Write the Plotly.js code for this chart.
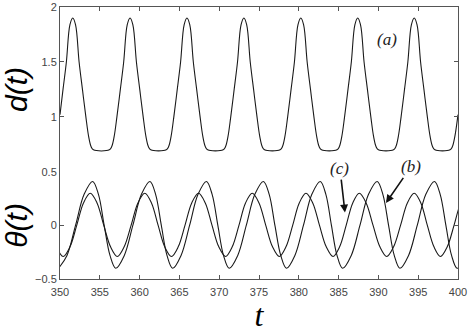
<!DOCTYPE html>
<html>
<head>
<meta charset="utf-8">
<script src="https://cdn.plot.ly/plotly-3.0.1.min.js"></script>
<style>
  html, body { margin: 0; padding: 0; background: #fff; }
  #chart { width: 469px; height: 333px; }
</style>
</head>
<body>
<div id="chart"></div>
<script>
// top panel: d(t)
var tD = [350, 350.38, 350.8, 351.25, 351.6, 351.95, 352.4, 352.82, 353.25, 353.6, 353.9, 354.2,
    356.2, 356.5, 356.8, 357.15, 357.58, 358.0, 358.45, 358.8, 359.15, 359.6, 360.02, 360.45, 360.8, 361.1, 361.4,
    363.35, 363.65, 363.95, 364.3, 364.73, 365.15, 365.6, 365.95, 366.3, 366.75, 367.17, 367.6, 367.95, 368.25, 368.55,
    370.5, 370.8, 371.1, 371.45, 371.88, 372.3, 372.75, 373.1, 373.45, 373.9, 374.32, 374.75, 375.1, 375.4, 375.7,
    377.65, 377.95, 378.25, 378.6, 379.03, 379.45, 379.9, 380.25, 380.6, 381.05, 381.47, 381.9, 382.25, 382.55, 382.85,
    384.8, 385.1, 385.4, 385.75, 386.18, 386.6, 387.05, 387.4, 387.75, 388.2, 388.62, 389.05, 389.4, 389.7, 390.0,
    391.9, 392.2, 392.5, 392.85, 393.28, 393.7, 394.15, 394.5, 394.85, 395.3, 395.72, 396.15, 396.5, 396.8, 397.1,
    399.0, 399.3, 399.6, 400];
var dVals = [1.02, 1.25, 1.5, 1.84, 1.9, 1.84, 1.5, 1.25, 1.0, 0.82, 0.73, 0.70,
    0.70, 0.73, 0.82, 1.0, 1.25, 1.5, 1.84, 1.9, 1.84, 1.5, 1.25, 1.0, 0.82, 0.73, 0.70,
    0.70, 0.73, 0.82, 1.0, 1.25, 1.5, 1.84, 1.9, 1.84, 1.5, 1.25, 1.0, 0.82, 0.73, 0.70,
    0.70, 0.73, 0.82, 1.0, 1.25, 1.5, 1.84, 1.9, 1.84, 1.5, 1.25, 1.0, 0.82, 0.73, 0.70,
    0.70, 0.73, 0.82, 1.0, 1.25, 1.5, 1.84, 1.9, 1.84, 1.5, 1.25, 1.0, 0.82, 0.73, 0.70,
    0.70, 0.73, 0.82, 1.0, 1.25, 1.5, 1.84, 1.9, 1.84, 1.5, 1.25, 1.0, 0.82, 0.73, 0.70,
    0.70, 0.73, 0.82, 1.0, 1.25, 1.5, 1.84, 1.9, 1.84, 1.5, 1.25, 1.0, 0.82, 0.73, 0.70,
    0.70, 0.73, 0.82, 1.02];

// bottom panel: theta(t), curve (b) larger swing
var tB = [349.8, 350.88, 351.95, 353.03, 354.1, 354.83, 355.55, 356.28, 357.0,
    358.08, 359.15, 360.23, 361.3, 362.01, 362.73, 363.44, 364.15,
    365.21, 366.28, 367.34, 368.4, 369.11, 369.83, 370.54, 371.25,
    372.33, 373.4, 374.48, 375.55, 376.28, 377.0, 377.73, 378.45,
    379.51, 380.58, 381.64, 382.7, 383.4, 384.1, 384.8, 385.5,
    386.59, 387.68, 388.76, 389.85, 390.56, 391.28, 391.99, 392.7,
    393.79, 394.88, 395.96, 397.05, 397.76, 398.48, 399.19, 399.9, 401.0];
var thetaB = [-0.40, -0.28, 0.0, 0.29, 0.41, 0.29, 0.0, -0.28, -0.40,
    -0.28, 0.0, 0.29, 0.41, 0.29, 0.0, -0.28, -0.40,
    -0.28, 0.0, 0.29, 0.41, 0.29, 0.0, -0.28, -0.40,
    -0.28, 0.0, 0.29, 0.41, 0.29, 0.0, -0.28, -0.40,
    -0.28, 0.0, 0.29, 0.41, 0.29, 0.0, -0.28, -0.40,
    -0.28, 0.0, 0.29, 0.41, 0.29, 0.0, -0.28, -0.40,
    -0.28, 0.0, 0.29, 0.41, 0.29, 0.0, -0.28, -0.40, -0.28];

// curve (c) smaller swing
var tC = [348.7, 349.55, 350.4, 351.25, 352.1, 352.95, 353.8, 354.65, 355.5, 356.35, 357.2,
    358.06, 358.93, 359.79, 360.65, 361.49, 362.33, 363.16, 364.0,
    364.85, 365.7, 366.55, 367.4, 368.25, 369.1, 369.95, 370.8,
    371.64, 372.48, 373.31, 374.15, 375.0, 375.85, 376.7, 377.55,
    378.39, 379.23, 380.06, 380.9, 381.75, 382.6, 383.45, 384.3,
    385.13, 385.95, 386.78, 387.6, 388.46, 389.33, 390.19, 391.05,
    391.91, 392.78, 393.64, 394.5, 395.33, 396.15, 396.98, 397.8,
    398.65, 399.5, 400.35, 401.2];
var thetaC = [0.0, -0.2, -0.29, -0.2, 0.0, 0.21, 0.30, 0.21, 0.0, -0.2, -0.29,
    -0.2, 0.0, 0.21, 0.30, 0.21, 0.0, -0.2, -0.29,
    -0.2, 0.0, 0.21, 0.30, 0.21, 0.0, -0.2, -0.29,
    -0.2, 0.0, 0.21, 0.30, 0.21, 0.0, -0.2, -0.29,
    -0.2, 0.0, 0.21, 0.30, 0.21, 0.0, -0.2, -0.29,
    -0.2, 0.0, 0.21, 0.30, 0.21, 0.0, -0.2, -0.29,
    -0.2, 0.0, 0.21, 0.30, 0.21, 0.0, -0.2, -0.29,
    -0.2, 0.0, 0.21, 0.30];

var xTicks = [350, 355, 360, 365, 370, 375, 380, 385, 390, 395, 400];
var dTicks = [1, 1.5, 2];
var thetaTicks = [-0.5, 0, 0.5];

var lineStyle = {color: '#1a1a1a', width: 1.1, shape: 'spline', smoothing: 1};

var data = [
    {x: tD, y: dVals, xaxis: 'x2', yaxis: 'y', type: 'scatter', mode: 'lines', line: lineStyle, name: 'd'},
    {x: tB, y: thetaB, xaxis: 'x', yaxis: 'y2', type: 'scatter', mode: 'lines', line: lineStyle, name: 'b'},
    {x: tC, y: thetaC, xaxis: 'x', yaxis: 'y2', type: 'scatter', mode: 'lines', line: lineStyle, name: 'c'}
];

var tickFont = {family: 'Liberation Sans, Arial, sans-serif', size: 11, color: '#444'};
var frame = {showline: true, linecolor: '#555', linewidth: 1, ticks: 'inside', ticklen: 4,
    tickcolor: '#555', showgrid: false, zeroline: false, tickfont: tickFont};

var layout = {
    width: 469, height: 333,
    margin: {l: 60, r: 11, t: 7, b: 54},
    showlegend: false,
    paper_bgcolor: '#fff', plot_bgcolor: '#fff',
    xaxis: Object.assign({}, frame, {
        anchor: 'y2', range: [350, 400], tickvals: xTicks, ticklabelstandoff: 3,
        title: {text: 't', standoff: 2,
            font: {family: 'Liberation Serif, serif', size: 32, style: 'italic', color: '#000'}}
    }),
    xaxis2: Object.assign({}, frame, {
        anchor: 'y', side: 'top', matches: 'x', range: [350, 400], tickvals: xTicks,
        showticklabels: false
    }),
    yaxis: Object.assign({}, frame, {
        anchor: 'x2', domain: [0.394, 1], range: [0.5, 2], tickvals: dTicks, mirror: 'ticks',
        title: {text: 'd(t)', standoff: 6,
            font: {family: 'Liberation Sans, Arial, sans-serif', size: 30, style: 'italic', color: '#000'}}
    }),
    yaxis2: Object.assign({}, frame, {
        anchor: 'x', domain: [0, 0.394], range: [-0.5, 0.5], tickvals: thetaTicks, mirror: 'ticks',
        title: {text: 'θ(t)', standoff: 6,
            font: {family: 'Liberation Sans, Arial, sans-serif', size: 30, style: 'italic', color: '#000'}}
    }),
    annotations: [
        {text: '(a)', xref: 'x2', yref: 'y', x: 391.1, y: 1.7, showarrow: false,
            font: {family: 'Liberation Serif, serif', size: 17, style: 'italic', color: '#222'}},
        {text: '(c)', xref: 'x', yref: 'y2', x: 385.8, y: 0.12, ax: -5, ay: -44,
            showarrow: true, arrowhead: 2, arrowsize: 1, arrowwidth: 1.6, arrowcolor: '#111',
            font: {family: 'Liberation Serif, serif', size: 17, style: 'italic', color: '#222'}},
        {text: '(b)', xref: 'x', yref: 'y2', x: 390.95, y: 0.21, ax: 25, ay: -36,
            showarrow: true, arrowhead: 2, arrowsize: 1, arrowwidth: 1.6, arrowcolor: '#111',
            font: {family: 'Liberation Serif, serif', size: 17, style: 'italic', color: '#222'}}
    ]
};

Plotly.newPlot('chart', data, layout, {displayModeBar: false, staticPlot: true});
</script>
</body>
</html>
